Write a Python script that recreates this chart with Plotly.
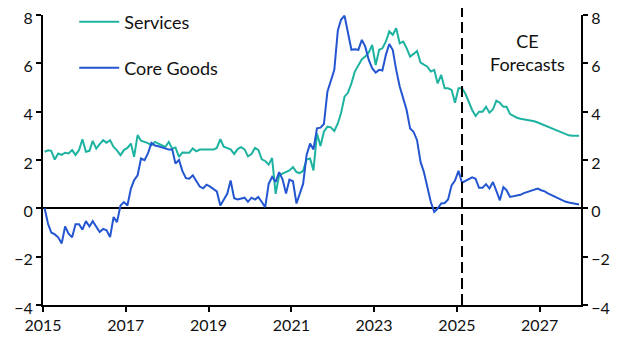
import pandas as pd
import plotly.graph_objects as go

# Monthly data, Jan 2015 - Dec 2027 (actuals to Feb 2025, CE forecasts after)
dates = pd.date_range("2015-01-01", periods=156, freq="MS") + pd.Timedelta(days=14)

services = [
    2.34, 2.40, 2.38, 2.02, 2.27, 2.21, 2.30, 2.27, 2.41, 2.21, 2.41, 2.86,
    2.34, 2.38, 2.79, 2.47, 2.66, 2.82, 2.71, 2.82, 2.54, 2.40, 2.20, 2.41,
    2.50, 2.68, 2.13, 3.03, 2.80, 2.75, 2.70, 2.61, 2.75, 2.68, 2.61, 2.54,
    2.75, 2.47, 2.52, 2.13, 2.31, 2.30, 2.30, 2.48, 2.36, 2.43, 2.43, 2.41,
    2.43, 2.43, 2.50, 2.86, 2.55, 2.48, 2.44, 2.25, 2.45, 2.53, 2.44, 2.15,
    2.25, 2.50, 2.42, 2.03, 1.96, 1.81, 2.08, 0.60, 1.37, 1.44, 1.50, 1.57,
    1.71, 1.50, 1.46, 1.55, 2.02, 2.06, 1.57, 3.10, 2.58, 3.17, 3.38, 3.35,
    3.20, 3.51, 3.93, 4.62, 4.78, 5.17, 5.66, 5.93, 6.17, 6.28, 6.45, 6.76,
    5.93, 6.56, 6.62, 6.90, 7.32, 7.18, 7.45, 6.83, 6.90, 6.63, 6.28, 6.39,
    6.51, 6.03, 5.93, 5.86, 5.66, 5.73, 5.17, 5.52, 4.97, 4.97, 4.90, 4.37,
    4.97, 4.97, 4.76, 4.41, 4.07, 3.82, 4.00, 4.00, 4.20, 3.96, 4.10, 4.45,
    4.37, 4.20, 4.20, 3.90, 3.82, 3.75, 3.71, 3.69, 3.67, 3.65, 3.60, 3.55,
    3.49, 3.42, 3.36, 3.30, 3.25, 3.20, 3.13, 3.05, 3.02, 3.00, 3.00, 3.00,
]

core_goods = [
    0.00, -0.65, -1.00, -1.08, -1.20, -1.45, -0.75, -1.05, -1.20, -0.66, -0.66, -0.88,
    -0.53, -0.75, -0.53, -0.75, -0.98, -0.85, -0.91, -1.19, -0.36, -0.57, 0.12, 0.26,
    0.12, 0.82, 1.16, 1.37, 2.06, 1.99, 2.27, 2.71, 2.60, 2.57, 2.52, 2.48,
    2.43, 2.43, 1.85, 2.00, 1.55, 1.25, 1.23, 1.37, 1.15, 0.90, 0.83, 0.98,
    0.90, 0.80, 0.70, 0.12, 0.38, 0.60, 1.15, 0.42, 0.37, 0.40, 0.44, 0.27,
    0.44, 0.36, 0.47, 0.26, 0.05, 1.02, 1.30, 1.09, 1.50, 1.20, 0.61, 1.19,
    1.12, 0.20, 0.60, 1.02, 2.20, 2.68, 2.44, 3.31, 3.34, 3.49, 4.83, 5.31,
    5.73, 7.36, 7.80, 7.97, 7.25, 6.56, 6.58, 6.56, 6.97, 6.69, 6.14, 5.80,
    5.62, 5.73, 5.70, 6.35, 6.80, 6.55, 5.73, 5.04, 4.55, 4.07, 3.30, 3.17,
    2.82, 1.92, 1.51, 0.82, 0.27, -0.15, -0.01, 0.20, 0.22, 0.37, 0.95, 1.15,
    1.55, 1.06, 1.13, 1.22, 1.28, 1.22, 0.85, 0.85, 1.00, 0.82, 1.09, 0.72,
    0.33, 0.88, 0.75, 0.47, 0.50, 0.52, 0.56, 0.63, 0.68, 0.74, 0.78, 0.82,
    0.75, 0.70, 0.62, 0.55, 0.48, 0.42, 0.33, 0.28, 0.24, 0.21, 0.18, 0.16,
]

forecast_start = dates[121]  # Feb 2025, last actual
x_range = ["2015-01-01", "2028-01-01"]
y_range = [-4, 8]
y_ticks = [-4, -2, 0, 2, 4, 6, 8]

FONT = "Lato"
TXT = "#111111"
TEAL = "#1DB3A0"
BLUE = "#2356D0"

fig = go.Figure()
fig.add_trace(go.Scatter(x=dates, y=services, mode="lines", name="Services",
                         line=dict(color=TEAL, width=2), legend="legend",
                         showlegend=True, yaxis="y"))
fig.add_trace(go.Scatter(x=dates, y=core_goods, mode="lines", name="Core Goods",
                         line=dict(color=BLUE, width=2), legend="legend2",
                         showlegend=True, yaxis="y2"))

fig.add_shape(type="line", xref="x", yref="paper", x0=forecast_start, x1=forecast_start,
              y0=0, y1=1.035, line=dict(color="black", width=2, dash="11px,5px"))

fig.add_annotation(text="CE<br>Forecasts", xref="paper", yref="paper", x=0.901, y=0.872,
                   showarrow=False, font=dict(family=FONT, size=18, color=TXT),
                   xanchor="center", yanchor="middle", align="center")

axis_common = dict(range=y_range, tickvals=y_ticks, showgrid=False, showline=True,
                   linecolor="black", linewidth=2, ticks="outside", ticklen=5,
                   tickwidth=2, tickcolor="black", automargin=False,
                   ticklabeloverflow="allow", ticklabelshift=3,
                   tickfont=dict(family=FONT, size=16, color=TXT))

fig.update_layout(
    width=629, height=355,
    margin=dict(l=35, r=56, t=7, b=58, autoexpand=False),
    paper_bgcolor="white", plot_bgcolor="white",
    font=dict(family=FONT, size=16, color=TXT),
    hovermode=False,
    showlegend=True,
    xaxis=dict(type="date", range=x_range, tick0="2015-01-01", dtick="M24",
               tickformat="%Y", showgrid=False, showline=True, linecolor="black",
               linewidth=2, ticks="outside", ticklen=5, tickwidth=2, tickcolor="black",
               automargin=False, ticklabeloverflow="allow",
               tickfont=dict(family=FONT, size=16, color=TXT), zeroline=False),
    yaxis=dict(**axis_common, zeroline=True, zerolinecolor="black", zerolinewidth=2,
               side="left"),
    yaxis2=dict(**axis_common, zeroline=False, overlaying="y", side="right"),
    legend=dict(x=0.058, y=0.976, xanchor="left", yanchor="middle",
                bgcolor="rgba(0,0,0,0)", font=dict(family=FONT, size=18, color=TXT),
                itemwidth=40),
    legend2=dict(x=0.058, y=0.817, xanchor="left", yanchor="middle",
                 bgcolor="rgba(0,0,0,0)", font=dict(family=FONT, size=18, color=TXT),
                 itemwidth=40),
)

fig.write_html("out.html")
